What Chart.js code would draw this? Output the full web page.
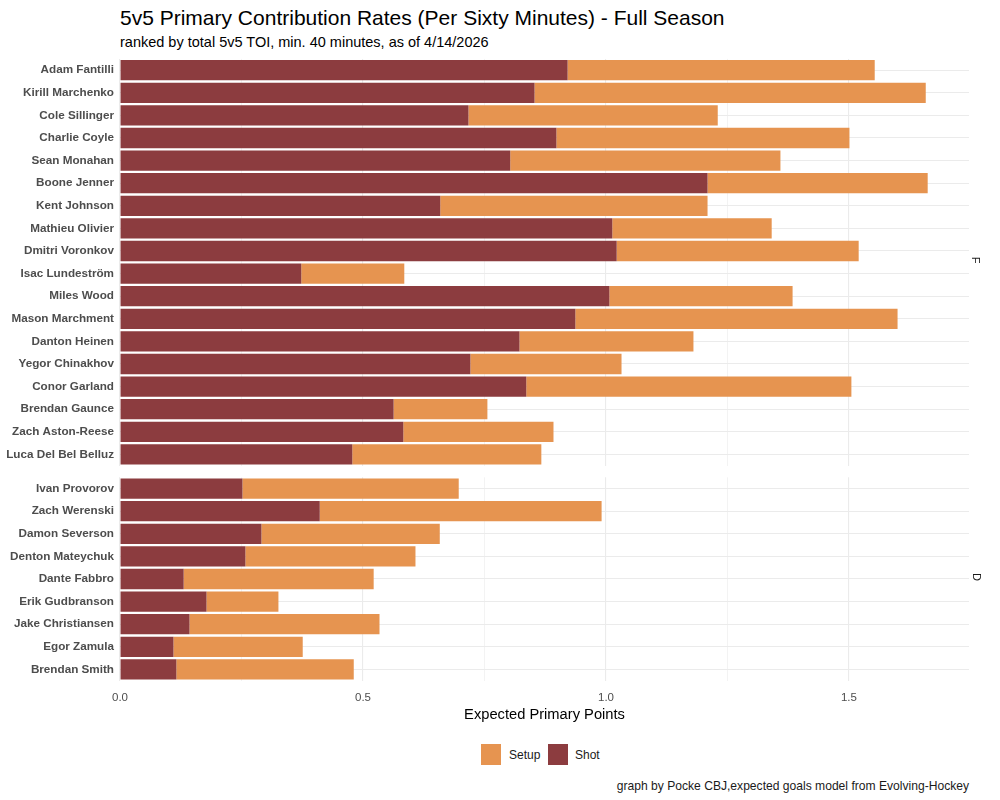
<!DOCTYPE html>
<html>
<head>
<meta charset="utf-8">
<script src="https://cdn.jsdelivr.net/npm/chart.js@4"></script>
<style>
  body { margin: 0; background: #fff; font-family: "Liberation Sans", Arial, sans-serif; }
  #page { position: relative; width: 1000px; height: 800px; overflow: hidden; }
  .txt { position: absolute; white-space: nowrap; }
  #title { left: 120px; top: 6px; font-size: 21px; color: #000; }
  #subtitle { left: 120px; top: 34px; font-size: 14.5px; color: #000; }
  .strip { position: absolute; font-size: 11px; color: #1a1a1a; transform: rotate(90deg); transform-origin: center; }
  #boxF { position: absolute; left: 0; top: 50px; width: 1000px; height: 420px; }
  #boxD { position: absolute; left: 0; top: 470px; width: 1000px; height: 260px; }
  .key { position: absolute; width: 20px; height: 21px; }
  .lab { position: absolute; font-size: 12px; color: #1a1a1a; }
  #caption { right: 31px; top: 779px; font-size: 12.1px; color: #1a1a1a; }
</style>
</head>
<body>
<div id="page">
  <div class="txt" id="title">5v5 Primary Contribution Rates (Per Sixty Minutes) - Full Season</div>
  <div class="txt" id="subtitle">ranked by total 5v5 TOI, min. 40 minutes, as of 4/14/2026</div>
  <div id="boxF"><canvas id="chartF"></canvas></div>
  <div id="boxD"><canvas id="chartD"></canvas></div>
  <div class="strip" style="left:973px; top:254px;">F</div>
  <div class="strip" style="left:973px; top:571px;">D</div>
  <div class="key" style="left:481px; top:744px; background:#E69450;"></div>
  <div class="lab" style="left:509px; top:748px;">Setup</div>
  <div class="key" style="left:548px; top:744px; background:#8C3C3F;"></div>
  <div class="lab" style="left:575px; top:748px;">Shot</div>
  <div class="txt" id="caption">graph by Pocke CBJ,expected goals model from Evolving-Hockey</div>
</div>
<script>
// forwards, ranked by 5v5 TOI
const forwards = ["Adam Fantilli", "Kirill Marchenko", "Cole Sillinger", "Charlie Coyle", "Sean Monahan",
  "Boone Jenner", "Kent Johnson", "Mathieu Olivier", "Dmitri Voronkov", "Isac Lundeström", "Miles Wood",
  "Mason Marchment", "Danton Heinen", "Yegor Chinakhov", "Conor Garland", "Brendan Gaunce",
  "Zach Aston-Reese", "Luca Del Bel Belluz"];
const fShot = [0.921, 0.853, 0.717, 0.898, 0.803, 1.209, 0.659, 1.013, 1.022, 0.373, 1.007,
  0.937, 0.822, 0.721, 0.836, 0.563, 0.583, 0.478];
const fSetup = [0.632, 0.805, 0.513, 0.603, 0.556, 0.453, 0.550, 0.328, 0.498, 0.212, 0.377,
  0.663, 0.358, 0.311, 0.669, 0.193, 0.309, 0.389];

// defense
const defense = ["Ivan Provorov", "Zach Werenski", "Damon Severson", "Denton Mateychuk", "Dante Fabbro",
  "Erik Gudbranson", "Jake Christiansen", "Egor Zamula", "Brendan Smith"];
const dShot = [0.252, 0.411, 0.291, 0.258, 0.131, 0.178, 0.143, 0.110, 0.116];
const dSetup = [0.445, 0.580, 0.367, 0.350, 0.391, 0.148, 0.391, 0.266, 0.365];

const xTicks = [0, 0.5, 1.0, 1.5];

const shotColor = "#8C3C3F";
const setupColor = "#E69450";
const gridColor = "#EBEBEB";
const X_MAX = 1.747;

const isMajor = (v) => xTicks.some((t) => Math.abs(t - v) < 1e-6);

function makeChart(canvas, names, shot, setup, pad, showAxis) {
  return new Chart(canvas, {
    type: "bar",
    data: {
      labels: names,
      datasets: [
        { label: "Shot", data: shot, backgroundColor: shotColor, borderWidth: 0 },
        { label: "Setup", data: setup, backgroundColor: setupColor, borderWidth: 0 },
      ],
    },
    options: {
      indexAxis: "y",
      responsive: true,
      maintainAspectRatio: false,
      animation: false,
      layout: { padding: pad },
      datasets: { bar: { barPercentage: 0.9, categoryPercentage: 1.0 } },
      plugins: { legend: { display: false }, tooltip: { enabled: false } },
      scales: {
        x: {
          type: "linear",
          stacked: true,
          min: 0,
          max: X_MAX,
          border: { display: false },
          afterFit: (s) => {
            s.height = showAxis ? 42.7 : 0;
            s.paddingLeft = 0;
            s.paddingRight = 0;
          },
          grid: {
            drawTicks: false,
            color: (c) => (c.tick && c.tick.value > 1.74 ? "rgba(0,0,0,0)" : gridColor),
            lineWidth: (c) => (c.tick && isMajor(c.tick.value) ? 1.1 : 0.6),
          },
          ticks: {
            display: showAxis,
            stepSize: 0.25,
            autoSkip: false,
            maxRotation: 0,
            padding: 10.3,
            color: "#4D4D4D",
            font: { family: "Liberation Sans", size: 11.5 },
            callback: (v) => (isMajor(v) ? v.toFixed(1) : ""),
          },
          title: {
            display: showAxis,
            text: "Expected Primary Points",
            color: "#000",
            padding: 0,
            font: { family: "Liberation Sans", size: 14.7 },
          },
        },
        y: {
          stacked: true,
          border: { display: false },
          afterFit: (s) => {
            s.width = 120;
            s.paddingTop = 0;
            s.paddingBottom = 0;
          },
          grid: { offset: false, drawTicks: false, color: gridColor, lineWidth: 1.1 },
          ticks: {
            autoSkip: false,
            padding: 6,
            color: "#4D4D4D",
            font: { family: "Liberation Sans", size: 11.7, weight: "bold" },
          },
        },
      },
    },
  });
}

makeChart(document.getElementById("chartF"), forwards, fShot, fSetup,
  { top: 8.9, right: 31, bottom: 4.3, left: 0 }, false);
makeChart(document.getElementById("chartD"), defense, dShot, dSetup,
  { top: 7.3, right: 31, bottom: 6.6, left: 0 }, true);
</script>
</body>
</html>
